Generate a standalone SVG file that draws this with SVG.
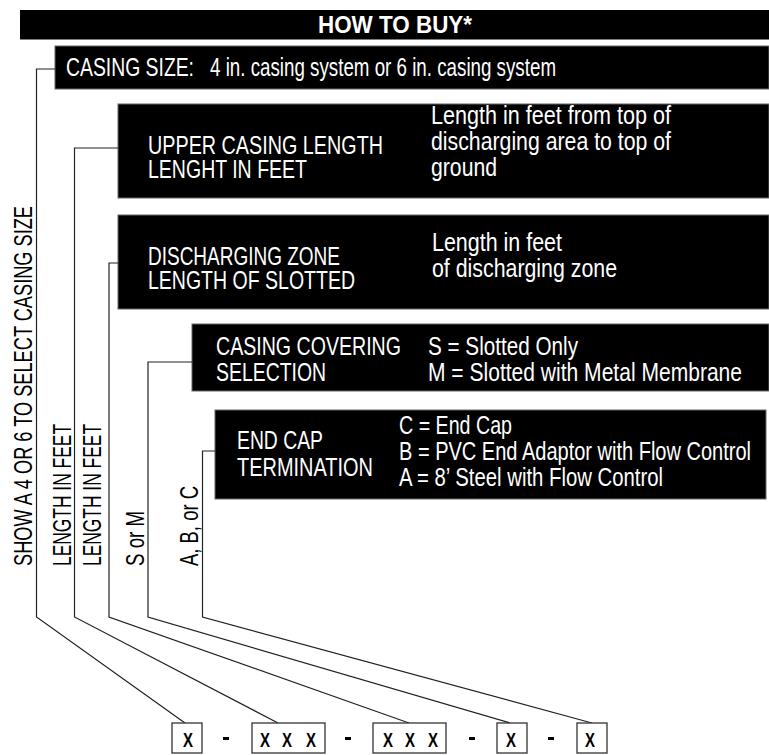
<svg xmlns="http://www.w3.org/2000/svg" width="769" height="755" viewBox="0 0 769 755">
<style>
.box{fill:#000;stroke:#666;stroke-width:1}
.t{font-family:"Liberation Sans",Arial,sans-serif;font-size:25px;fill:#fff}
.r{font-family:"Liberation Sans",Arial,sans-serif;font-size:25px;fill:#fff}
.v{font-family:"Liberation Sans",Arial,sans-serif;font-size:25px;fill:#000}
.ttl{font-family:"Liberation Sans",Arial,sans-serif;font-size:23px;font-weight:bold;fill:#fff}
.con{fill:none;stroke:#222;stroke-width:1.2}
.cb{fill:#fff;stroke:#333;stroke-width:1.3}
.x{font-family:"Liberation Sans",Arial,sans-serif;font-size:20px;font-weight:bold;fill:#000}
</style>
<rect x="0" y="0" width="769" height="755" fill="#fff"/>
<g id="title">
<rect x="20" y="10" width="749" height="29.5" fill="#000"/>
<text class="ttl" x="318" y="33" textLength="154" lengthAdjust="spacingAndGlyphs">HOW TO BUY*</text>
</g>
<g id="casing-size">
<rect class="box" x="55" y="46" width="714" height="43"/>
<text class="t" x="66" y="76" textLength="128" lengthAdjust="spacingAndGlyphs">CASING SIZE:</text>
<text class="t" x="210" y="76" textLength="346" lengthAdjust="spacingAndGlyphs">4 in. casing system or 6 in. casing system</text>
</g>
<g id="upper-casing">
<rect class="box" x="118" y="104" width="651" height="94"/>
<text class="t" x="148" y="154" textLength="235" lengthAdjust="spacingAndGlyphs">UPPER CASING LENGTH</text>
<text class="t" x="148" y="178" textLength="159" lengthAdjust="spacingAndGlyphs">LENGHT IN FEET</text>
<text class="r" x="431" y="124" textLength="240" lengthAdjust="spacingAndGlyphs">Length in feet from top of</text>
<text class="r" x="431" y="150" textLength="240" lengthAdjust="spacingAndGlyphs">discharging area to top of</text>
<text class="r" x="431" y="176" textLength="66" lengthAdjust="spacingAndGlyphs">ground</text>
</g>
<g id="discharging-zone">
<rect class="box" x="118" y="215" width="651" height="94"/>
<text class="t" x="148" y="265" textLength="192" lengthAdjust="spacingAndGlyphs">DISCHARGING ZONE</text>
<text class="t" x="148" y="289" textLength="207" lengthAdjust="spacingAndGlyphs">LENGTH OF SLOTTED</text>
<text class="r" x="432" y="251" textLength="130" lengthAdjust="spacingAndGlyphs">Length in feet</text>
<text class="r" x="432" y="277" textLength="185" lengthAdjust="spacingAndGlyphs">of discharging zone</text>
</g>
<g id="casing-covering">
<rect class="box" x="192" y="324" width="577" height="67"/>
<text class="t" x="216" y="355" textLength="185" lengthAdjust="spacingAndGlyphs">CASING COVERING</text>
<text class="t" x="216" y="381" textLength="110" lengthAdjust="spacingAndGlyphs">SELECTION</text>
<text class="r" x="428" y="355" textLength="150" lengthAdjust="spacingAndGlyphs">S = Slotted Only</text>
<text class="r" x="428" y="381" textLength="314" lengthAdjust="spacingAndGlyphs">M = Slotted with Metal Membrane</text>
</g>
<g id="end-cap">
<rect class="box" x="215" y="410" width="551" height="89"/>
<text class="t" x="237" y="449" textLength="86" lengthAdjust="spacingAndGlyphs">END CAP</text>
<text class="t" x="237" y="476" textLength="136" lengthAdjust="spacingAndGlyphs">TERMINATION</text>
<text class="r" x="399" y="434" textLength="113" lengthAdjust="spacingAndGlyphs">C = End Cap</text>
<text class="r" x="399" y="460" textLength="352" lengthAdjust="spacingAndGlyphs">B = PVC End Adaptor with Flow Control</text>
<text class="r" x="399" y="486" textLength="264" lengthAdjust="spacingAndGlyphs">A = 8’ Steel with Flow Control</text>
</g>
<g id="connectors">
<polyline class="con" points="55,69 36.5,69 36.5,617 185,723"/>
<polyline class="con" points="118,148 74.5,148 74.5,617 278,723"/>
<polyline class="con" points="118,263 109,263 109,617 409,723"/>
<polyline class="con" points="192,362 148,362 148,617 510,723"/>
<polyline class="con" points="215,451 202.5,451 202.5,617 592,723"/>
</g>
<g id="vertical-labels">
<text class="v" transform="translate(32,566) rotate(-90)" textLength="360" lengthAdjust="spacingAndGlyphs">SHOW A 4 OR 6 TO SELECT CASING SIZE</text>
<text class="v" transform="translate(70.5,566) rotate(-90)" textLength="142" lengthAdjust="spacingAndGlyphs">LENGTH IN FEET</text>
<text class="v" transform="translate(101,566) rotate(-90)" textLength="142" lengthAdjust="spacingAndGlyphs">LENGTH IN FEET</text>
<text class="v" transform="translate(144,566) rotate(-90)" textLength="55" lengthAdjust="spacingAndGlyphs">S or M</text>
<text class="v" transform="translate(198,566) rotate(-90)" textLength="80" lengthAdjust="spacingAndGlyphs">A, B, or C</text>
</g>
<g id="code">
<rect class="cb" x="172" y="723" width="30" height="30"/>
<text class="x" x="183" y="747" textLength="10" lengthAdjust="spacingAndGlyphs">X</text>
<rect x="223" y="737" width="6" height="3" fill="#000"/>
<rect class="cb" x="252" y="723" width="73" height="30"/>
<text class="x" x="260" y="747" textLength="10" lengthAdjust="spacingAndGlyphs">X</text>
<text class="x" x="282" y="747" textLength="10" lengthAdjust="spacingAndGlyphs">X</text>
<text class="x" x="306" y="747" textLength="10" lengthAdjust="spacingAndGlyphs">X</text>
<rect x="345" y="737" width="6" height="3" fill="#000"/>
<rect class="cb" x="373" y="723" width="73" height="30"/>
<text class="x" x="383" y="747" textLength="10" lengthAdjust="spacingAndGlyphs">X</text>
<text class="x" x="405" y="747" textLength="10" lengthAdjust="spacingAndGlyphs">X</text>
<text class="x" x="428" y="747" textLength="10" lengthAdjust="spacingAndGlyphs">X</text>
<rect x="469" y="737" width="6" height="3" fill="#000"/>
<rect class="cb" x="497" y="723" width="30" height="30"/>
<text class="x" x="506" y="747" textLength="10" lengthAdjust="spacingAndGlyphs">X</text>
<rect x="548" y="737" width="6" height="3" fill="#000"/>
<rect class="cb" x="577" y="723" width="30" height="30"/>
<text class="x" x="585" y="747" textLength="10" lengthAdjust="spacingAndGlyphs">X</text>
</g>
</svg>
